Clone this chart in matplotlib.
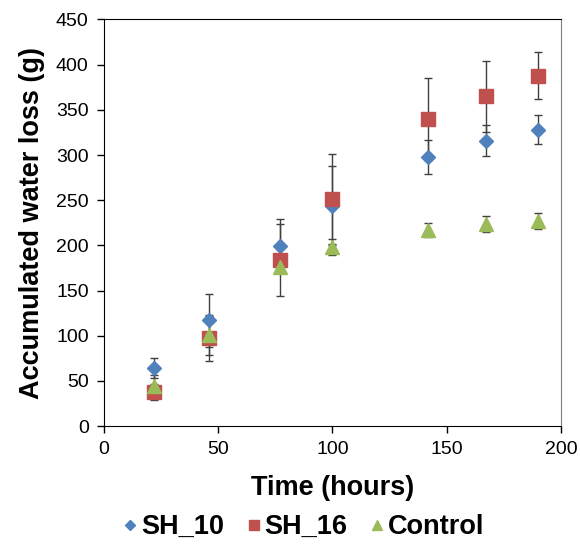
import matplotlib.pyplot as plt
from matplotlib.lines import Line2D

plt.rcParams['font.family'] = ['Liberation Sans', 'DejaVu Sans']

# time points (hours)
hours = [22, 46, 77, 100, 142, 167, 190]

# accumulated water loss (g) and error bars
sh10 = [64, 117, 199, 244, 298, 316, 328]
sh10_err = [11, 29, 30, 44, 19, 17, 16]

sh16 = [38, 97, 184, 251, 340, 365, 388]
sh16_err = [9, 25, 40, 50, 45, 39, 26]

control = [44, 101, 176, 198, 217, 224, 227]
control_err = [12, 22, 6, 9, 8, 9, 9]

fig = plt.figure(figsize=(5.8, 5.49), dpi=100)
ax = fig.add_axes([0.1793, 0.224, 0.7879, 0.7405])

series = [
    ("SH_10", sh10, sh10_err, "D", 7, "#4F81BD"),
    ("SH_16", sh16, sh16_err, "s", 10.5, "#C0504D"),
    ("Control", control, control_err, "^", 10.5, "#9BBB59"),
]
handles = []
for label, vals, err, mk, ms, col in series:
    ax.errorbar(hours, vals, yerr=err, fmt=mk, ms=ms, color=col, mec=col,
                ecolor="#404040", elinewidth=1, capsize=3, capthick=1)
    handles.append(Line2D([], [], ls="none", marker=mk, ms=ms * 0.72,
                          color=col, mec=col, label=label))

ax.set_xlim(0, 200)
ax.set_ylim(0, 450)
ax.set_xticks(range(0, 201, 50))
ax.set_yticks(range(0, 451, 50))
ax.tick_params(direction="out", length=5, width=1, labelsize=14, pad=6)
ax.spines["right"].set_color("#808080")

ax.set_xlabel("Time (hours)", fontsize=19.5, fontweight="bold", labelpad=12)
ax.set_ylabel("Accumulated water loss (g)", fontsize=19.5, fontweight="bold", labelpad=8)

fig.legend(handles=handles, loc="center", bbox_to_anchor=(0.524, 0.04), ncol=3,
           frameon=False, prop={"size": 19.5, "weight": "bold"},
           handlelength=0.5, handletextpad=0.15, columnspacing=0.85)

fig.savefig("out.png", dpi=100)
